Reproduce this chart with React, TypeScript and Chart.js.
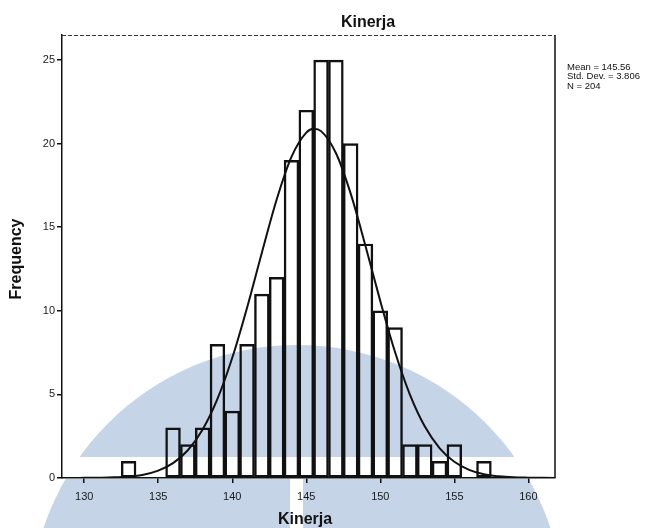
import React, { useEffect, useRef } from "react";
import { Chart, registerables } from "chart.js";

Chart.register(...registerables);

// Histogram bins (centre of each 1-unit bin) and frequencies
const BINS = [133, 134, 135, 136, 137, 138, 139, 140, 141, 142, 143, 144, 145, 146, 147, 148, 149, 150, 151, 152, 153, 154, 155, 156, 157];
const FREQ = [1, 0, 0, 3, 2, 3, 8, 4, 8, 11, 12, 19, 22, 25, 25, 20, 14, 10, 9, 2, 2, 1, 2, 0, 1];

// Normal curve
const CURVE_X = [128, 129, 130, 131, 132, 133, 134, 135, 136, 137, 138, 139, 140, 141, 142, 143, 144, 145, 145.5, 146, 147, 148, 149, 150, 151, 152, 153, 154, 155, 156, 157, 158, 159, 160, 161, 162];
const CURVE_Y = [0, 0, 0.01, 0.02, 0.04, 0.09, 0.2, 0.44, 0.89, 1.66, 2.9, 4.73, 7.19, 10.19, 13.48, 16.66, 19.21, 20.66, 20.89, 20.75, 19.44, 17.01, 13.88, 10.58, 7.52, 4.99, 3.09, 1.79, 0.97, 0.49, 0.22, 0.1, 0.04, 0.02, 0.01, 0];

const X_TICKS = [130, 135, 140, 145, 150, 155, 160];
const Y_TICKS = [0, 5, 10, 15, 20, 25];

const TITLE = "Kinerja";
const X_TITLE = "Kinerja";
const Y_TITLE = "Frequency";
const STATS = ["Mean = 145.56", "Std. Dev. = 3.806", "N = 204"];

const FONT = '"Liberation Sans", Arial, sans-serif';

export default function App() {
  const ref = useRef<HTMLCanvasElement>(null);

  useEffect(() => {
    const canvas = ref.current;
    if (!canvas) return;

    const decor = {
      id: "decor",
      beforeDraw(chart: any) {
        const ctx = chart.ctx as CanvasRenderingContext2D;
        ctx.save();
        ctx.fillStyle = "#ffffff";
        ctx.fillRect(0, 0, chart.width, chart.height);
        // pale watermark dome
        ctx.fillStyle = "#c6d4e8";
        ctx.beginPath();
        ctx.arc(297, 612, 267, Math.PI, 2 * Math.PI);
        ctx.closePath();
        ctx.fill();
        ctx.fillStyle = "#ffffff";
        ctx.fillRect(0, 457, chart.width, 22);
        ctx.fillRect(290, 479, 13, 60);
        ctx.restore();
      },
      afterDraw(chart: any) {
        const ctx = chart.ctx as CanvasRenderingContext2D;
        const a = chart.chartArea;
        ctx.save();
        // frame: dotted top, solid right
        ctx.strokeStyle = "#333";
        ctx.lineWidth = 1;
        ctx.setLineDash([4, 2]);
        ctx.beginPath();
        ctx.moveTo(a.left, a.top + 0.5);
        ctx.lineTo(a.right, a.top + 0.5);
        ctx.stroke();
        ctx.setLineDash([]);
        ctx.strokeStyle = "#111";
        ctx.lineWidth = 1.5;
        ctx.beginPath();
        ctx.moveTo(a.right, a.top);
        ctx.lineTo(a.right, a.bottom);
        ctx.stroke();

        ctx.fillStyle = "#111";
        ctx.textBaseline = "middle";
        ctx.textAlign = "center";
        ctx.font = `bold 16px ${FONT}`;
        ctx.fillText(TITLE, 368, 23);
        ctx.fillText(X_TITLE, 305, 520);
        ctx.save();
        ctx.translate(17, 259);
        ctx.rotate(-Math.PI / 2);
        ctx.font = `bold 16px ${FONT}`;
        ctx.fillText(Y_TITLE, 0, 0);
        ctx.restore();

        ctx.textAlign = "left";
        ctx.font = `9.5px ${FONT}`;
        STATS.forEach((s, i) => ctx.fillText(s, 567, 67 + i * 9.5));
        ctx.restore();
      },
    };

    const chart = new Chart(canvas, {
      type: "bar",
      data: {
        datasets: [
          {
            type: "line",
            data: CURVE_X.map((x, i) => ({ x, y: CURVE_Y[i] })),
            borderColor: "#111",
            borderWidth: 2,
            pointRadius: 0,
            cubicInterpolationMode: "monotone",
            fill: false,
            order: 0,
          } as any,
          {
            type: "bar",
            data: BINS.map((x, i) => ({ x, y: FREQ[i] })),
            backgroundColor: "rgba(0,0,0,0)",
            borderColor: "#111",
            borderWidth: 1.8,
            borderSkipped: false,
            barPercentage: 1,
            categoryPercentage: 1,
            grouped: false,
            order: 1,
          } as any,
        ],
      },
      options: {
        animation: false,
        responsive: false,
        layout: { padding: { top: 35, right: 112, left: 0, bottom: 0 } },
        plugins: { legend: { display: false }, tooltip: { enabled: false }, title: { display: false } },
        scales: {
          x: {
            type: "linear",
            min: 128.5,
            max: 161.8,
            offset: false,
            afterBuildTicks: (s: any) => {
              s.ticks = X_TICKS.map((v) => ({ value: v }));
            },
            afterFit: (s: any) => {
              s.height = 50;
            },
            grid: { display: true, drawOnChartArea: false, drawTicks: true, tickLength: 5, color: "#111", lineWidth: 1.5, offset: false },
            border: { display: true, color: "#111", width: 1.5 },
            ticks: { font: { size: 11, family: FONT }, color: "#1a1a1a", padding: 7, maxRotation: 0, autoSkip: false },
          },
          y: {
            type: "linear",
            min: 0,
            max: 26.5,
            afterBuildTicks: (s: any) => {
              s.ticks = Y_TICKS.map((v) => ({ value: v }));
            },
            afterFit: (s: any) => {
              s.width = 62;
            },
            grid: { display: true, drawOnChartArea: false, drawTicks: true, tickLength: 5, color: "#111", lineWidth: 1.5 },
            border: { display: true, color: "#111", width: 1.5 },
            ticks: { font: { size: 11, family: FONT }, color: "#1a1a1a", padding: 2 },
          },
        },
      } as any,
      plugins: [decor],
    });

    return () => chart.destroy();
  }, []);

  return (
    <div style={{ position: "fixed", left: 0, top: 0, width: 667, height: 528, background: "#fff" }}>
      <canvas ref={ref} width={667} height={528} style={{ width: 667, height: 528, display: "block" }} />
    </div>
  );
}
